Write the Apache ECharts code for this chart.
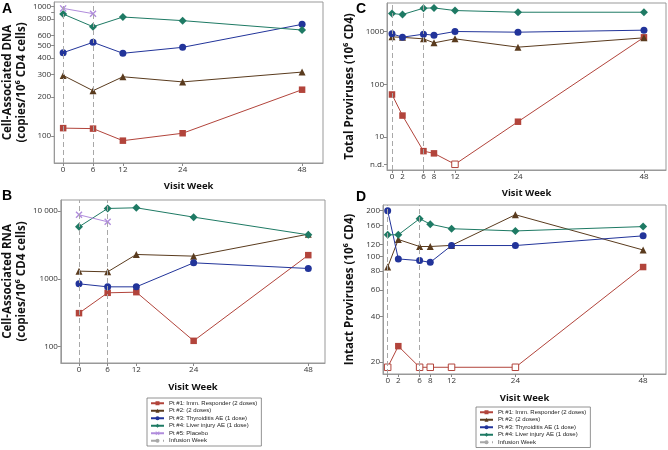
<!DOCTYPE html>
<html><head><meta charset="utf-8">
<script src="https://cdn.jsdelivr.net/npm/echarts@6/dist/echarts.min.js"></script>
<style>html,body{margin:0;padding:0;background:#fff}#c{width:668px;height:450px}</style>
</head><body><div id="c"></div>
<script>
// ---------- data ----------
const weeksAB = [0, 6, 12, 24, 48];
const weeksCD = [0, 2, 6, 8, 12, 24, 48];
const ptNames = ['Pt #1: Imm. Responder (2 doses)', 'Pt #2: (2 doses)', 'Pt #3: Thyroiditis AE (1 dose)', 'Pt #4: Liver injury AE (1 dose)', 'Pt #5: Placebo'];
const infusionName = 'Infusion Week';
const infusionWeeks = [0, 6];

// A: cell-associated DNA
const dnaPt1 = [115, 114, 92, 105, 228];
const dnaPt2 = [294, 224, 287, 262, 312];
const dnaPt3 = [441, 530, 436, 485, 730];
const dnaPt4 = [877, 700, 832, 780, 660];
const dnaPt5 = [970, 883, null, null, null];

// B: cell-associated RNA
const rnaPt1 = [312, 622, 636, 122, 2233];
const rnaPt2 = [1297, 1268, 2284, 2158, 4550];
const rnaPt3 = [844, 762, 762, 1721, 1420];
const rnaPt4 = [5840, 10880, 11130, 8110, 4450];
const rnaPt5 = [8780, 6920, null, null, null];

// C: total proviruses
const totPt1 = [64, 25.5, 5.4, 4.9, 'n.d.', 19.5, 776];
const totPt2 = [792, 775, 726, 610, 726, 505, 759];
const totPt3 = [904, 781, 890, 852, 1000, 971, 1060];
const totPt4 = [2190, 2100, 2766, 2800, 2497, 2320, 2320];

// D: intact proviruses
const intPt1 = ['n.d.', 25.5, 'n.d.', 'n.d.', 'n.d.', 'n.d.', 84.9];
const intPt2 = [84.9, 129, 116, 116, 118, 188, 110];
const intPt3 = [200, 96, 93.6, 91.2, 117.7, 117.7, 136.4];
const intPt4 = [138.6, 138.6, 177, 163, 152, 147, 157];

// n.d. plotting levels
const ndC = 3.04;
const ndD = 18.5;

// tick values / labels
const tickValsA = [100, 200, 300, 400, 500, 600, 800, 900, 1000];
const labelValsA = [100, 200, 300, 400, 500, 600, 800, 1000];
const labelTextA = ['100', '200', '300', '400', '500', '600', '800', '1000'];
const labelValsB = [100, 1000, 10000];
const labelTextB = ['100', '1000', '10 000'];
const labelValsC = [ndC, 10, 100, 1000];
const labelTextC = ['n.d.', '10', '100', '1000'];
const labelValsD = [ndD, 20, 40, 60, 80, 100, 120, 160, 200];
const labelTextD = ['n.d.', '20', '40', '60', '80', '100', '120', '160', '200'];

// ---------- styling ----------
const RED = '#B2443B', BROWN = '#5A3B1E', BLUE = '#22349A', GREEN = '#1E7A64', PURPLE = '#B08CDC', GRAY = '#A8A8A8';
const XSYM = 'path://M0,1.4L1.4,0L5,3.6L8.6,0L10,1.4L6.4,5L10,8.6L8.6,10L5,6.4L1.4,10L0,8.6L3.6,5Z';
const ptStyle = [
  {color: RED, symbol: 'rect', size: 6.5},
  {color: BROWN, symbol: 'triangle', size: 7},
  {color: BLUE, symbol: 'circle', size: 7},
  {color: GREEN, symbol: 'diamond', size: 8},
  {color: PURPLE, symbol: XSYM, size: 7}
];
const L = Math.log10;
const TICKFONT = 'Open Sans';

function buildSeries(idx, weeks, vals, gi, nd) {
  const st = ptStyle[idx];
  const data = [];
  weeks.forEach((w, i) => {
    const v = vals[i];
    if (v === null || v === undefined) return;
    if (v === 'n.d.') {
      data.push({value: [w, L(nd)], itemStyle: {color: '#fff', borderColor: st.color, borderWidth: 1}});
    } else {
      data.push([w, L(v)]);
    }
  });
  return {
    name: ptNames[idx], type: 'line', xAxisIndex: gi, yAxisIndex: gi,
    data, symbol: st.symbol, symbolSize: st.size, showSymbol: true,
    lineStyle: {color: st.color, width: 1}, itemStyle: {color: st.color},
    z: 3
  };
}
function infusionSeries(gi) {
  return {
    name: infusionName, type: 'line', xAxisIndex: gi, yAxisIndex: gi, data: [],
    symbol: 'none', lineStyle: {color: GRAY, width: 1, type: 'dashed'}, itemStyle: {color: GRAY},
    markLine: {silent: true, symbol: ['none', 'none'], label: {show: false},
      lineStyle: {color: GRAY, width: 1, type: [5, 3]},
      data: infusionWeeks.map(w => ({xAxis: w}))},
    z: 1
  };
}
function lookupFormatter(vals, texts) {
  return function (v) {
    for (let i = 0; i < vals.length; i++) if (Math.abs(L(vals[i]) - v) < 1e-6) return texts[i];
    return '';
  };
}
function yAx(gi, minV, maxV, tickVals, labelVals, labelText, name, gap) {
  return {
    type: 'value', gridIndex: gi, min: L(minV), max: L(maxV),
    axisLine: {show: true, onZero: false, lineStyle: {color: '#999'}},
    axisTick: {show: true, length: 3, lineStyle: {color: '#888'}, customValues: tickVals.map(L)},
    axisLabel: {customValues: labelVals.map(L), formatter: lookupFormatter(labelVals, labelText),
      fontSize: 8, color: '#333', margin: 3, fontFamily: TICKFONT},
    splitLine: {show: false},
    name, nameLocation: 'middle', nameGap: gap,
    nameTextStyle: {fontSize: 11.5, fontWeight: 'bold', color: '#111', lineHeight: 14, fontFamily: 'Open Sans'}
  };
}
function xAx(gi, minV, maxV, weeks, gap) {
  return {
    type: 'value', gridIndex: gi, min: minV, max: maxV,
    axisLine: {show: true, onZero: false, lineStyle: {color: '#999'}},
    axisTick: {show: true, length: 3, lineStyle: {color: '#888'}, customValues: weeks},
    axisLabel: {customValues: weeks, fontSize: 8, color: '#333', margin: 3, fontFamily: TICKFONT},
    splitLine: {show: false},
    name: 'Visit Week', nameLocation: 'middle', nameGap: gap,
    nameTextStyle: {fontSize: 9.5, fontWeight: 'bold', color: '#111', fontFamily: 'Open Sans'}
  };
}

const gridBase = {show: true, borderColor: '#999', borderWidth: 1, backgroundColor: 'transparent'};
const option = {
  animation: false,
  backgroundColor: '#fff',
  grid: [
    Object.assign({left: 53, top: 2, width: 270, height: 161}, gridBase),
    Object.assign({left: 53, top: 200, width: 272, height: 163}, gridBase),
    Object.assign({left: 387, top: 3, width: 279, height: 167}, gridBase),
    Object.assign({left: 383, top: 205, width: 283, height: 169}, gridBase)
  ],
  xAxis: [
    xAx(0, -1.8, 52.2, weeksAB, 18),
    xAx(1, -3.8, 51.5, weeksAB, 19),
    xAx(2, -0.95, 52.2, weeksCD, 18),
    xAx(3, -0.88, 52.3, weeksCD, 19)
  ],
  yAxis: [
    yAx(0, 61.8, 1087, tickValsA, labelValsA, labelTextA, 'Cell-Associated DNA\n(copies/10\u2076 CD4 cells)', 24),
    yAx(1, 57.5, 14500, labelValsB, labelValsB, labelTextB, 'Cell-Associated RNA\n(copies/10\u2076 CD4 cells)', 24),
    yAx(2, 2.37, 3470, labelValsC, labelValsC, labelTextC, 'Total Proviruses (10\u2076 CD4)', 30),
    yAx(3, 16.7, 218, labelValsD, labelValsD, labelTextD, 'Intact Proviruses (10\u2076 CD4)', 26)
  ],
  legend: [
    {orient: 'vertical', left: 147, top: 398, data: [...ptNames, infusionName],
      itemWidth: 13, itemHeight: 5, itemGap: 1, padding: [2, 4, 2, 3],
      borderColor: '#777', borderWidth: 0.8, backgroundColor: '#fff',
      textStyle: {fontSize: 6, lineHeight: 6.5, color: '#222', fontFamily: 'Liberation Sans'}},
    {orient: 'vertical', left: 476, top: 407, data: [...ptNames.slice(0, 4), infusionName],
      itemWidth: 13, itemHeight: 5, itemGap: 1, padding: [2, 4, 2, 3],
      borderColor: '#777', borderWidth: 0.8, backgroundColor: '#fff',
      textStyle: {fontSize: 6, lineHeight: 6.5, color: '#222', fontFamily: 'Liberation Sans'}}
  ],
  graphic: [
    {type: 'text', left: 2, top: 2, style: {text: 'A', font: 'bold 14px "Liberation Sans"', fill: '#000'}},
    {type: 'text', left: 2, top: 189, style: {text: 'B', font: 'bold 14px "Liberation Sans"', fill: '#000'}},
    {type: 'text', left: 356, top: 2, style: {text: 'C', font: 'bold 14px "Liberation Sans"', fill: '#000'}},
    {type: 'text', left: 356, top: 190, style: {text: 'D', font: 'bold 14px "Liberation Sans"', fill: '#000'}}
  ],
  series: [
    infusionSeries(0),
    buildSeries(0, weeksAB, dnaPt1, 0), buildSeries(1, weeksAB, dnaPt2, 0), buildSeries(2, weeksAB, dnaPt3, 0),
    buildSeries(3, weeksAB, dnaPt4, 0), buildSeries(4, weeksAB, dnaPt5, 0),
    infusionSeries(1),
    buildSeries(0, weeksAB, rnaPt1, 1), buildSeries(1, weeksAB, rnaPt2, 1), buildSeries(2, weeksAB, rnaPt3, 1),
    buildSeries(3, weeksAB, rnaPt4, 1), buildSeries(4, weeksAB, rnaPt5, 1),
    infusionSeries(2),
    buildSeries(0, weeksCD, totPt1, 2, ndC), buildSeries(1, weeksCD, totPt2, 2), buildSeries(2, weeksCD, totPt3, 2),
    buildSeries(3, weeksCD, totPt4, 2),
    infusionSeries(3),
    buildSeries(0, weeksCD, intPt1, 3, ndD), buildSeries(1, weeksCD, intPt2, 3), buildSeries(2, weeksCD, intPt3, 3),
    buildSeries(3, weeksCD, intPt4, 3)
  ]
};
const chart = echarts.init(document.getElementById('c'), null, {renderer: 'canvas'});
chart.setOption(option);
</script>
</body></html>
